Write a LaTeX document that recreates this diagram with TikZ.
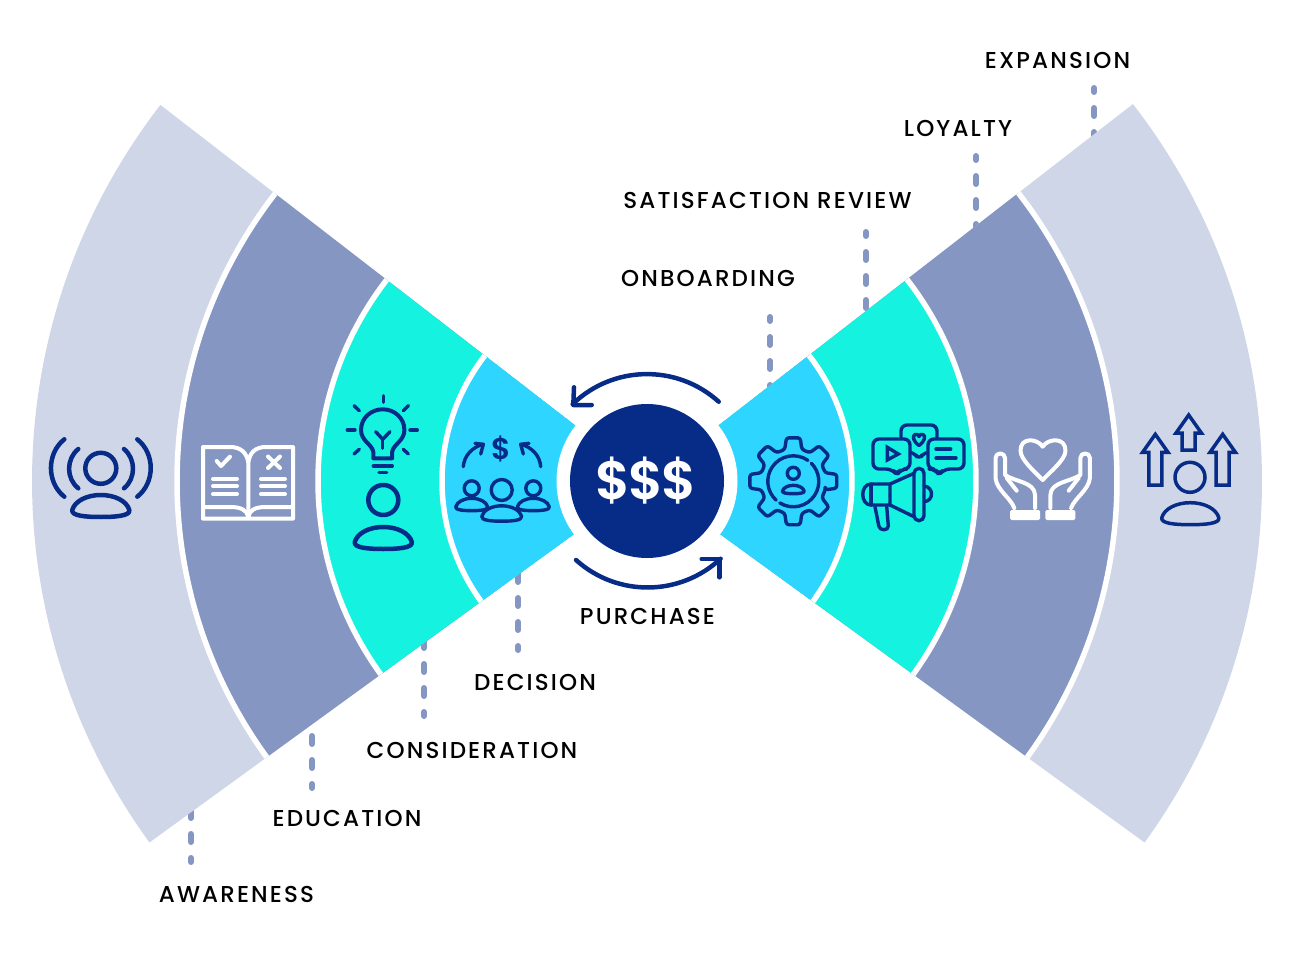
\documentclass[tikz,border=0pt]{standalone}
\usepackage{fontspec}
\newfontfamily\labelfont[LetterSpace=9.3]{Poppins Medium}
\newfontfamily\moneyfont[LetterSpace=-5]{Poppins SemiBold}
\definecolor{wedgepale}{HTML}{CFD6E8}
\definecolor{wedgemid}{HTML}{8596C3}
\definecolor{wedgeteal}{HTML}{15F2DF}
\definecolor{wedgesky}{HTML}{2DD5FF}
\definecolor{darkblue}{HTML}{062C87}
\tikzset{
    stagelabel/.style={font=\labelfont\fontsize{23}{23}\selectfont, text=black, inner sep=0pt},
    leader/.style={draw=wedgemid, line width=6pt, line cap=round, dash pattern=on 8pt off 16pt, dash phase=4pt},
    navyicon/.style={draw=darkblue, line width=4.5pt, line cap=round, line join=round},
    finenavy/.style={draw=darkblue, line width=3.4pt, line cap=round, line join=round},
    whiteicon/.style={draw=white, line width=4pt, line cap=round, line join=round},
    bodyshape/.pic={
        \path[pic actions] (-28.5,-4) .. controls (-26,5) and (-14,11) .. (0,11)
            .. controls (14,11) and (26,5) .. (28.5,-4)
            .. controls (30,-10) and (14,-11) .. (0,-11)
            .. controls (-14,-11) and (-30,-10) .. (-28.5,-4) -- cycle;
    },
}
\begin{document}
\begin{tikzpicture}[x=1pt,y=1pt]
    \useasboundingbox (0,0) rectangle (1296,-960);

    %leaders
    \foreach \name/\x/\ya/\yb in {expansion/1094/88/150, loyalty/976/156/245, satisfaction/866/232/325, onboarding/770/317/405,
        decision/518/650/560, consideration/424/716/625, education/312/788/720, awareness/191/862/795} {
        \coordinate (\name-free) at (\x,-\ya);
        \coordinate (\name-wedge) at (\x,-\yb);
        \draw[leader] (\name-free) -- (\name-wedge);
    }

    %wedges
    \begin{scope}[shift={(647,-481)}]
        \foreach \r/\c in {615/wedgepale,470/wedgemid,329/wedgeteal,205/wedgesky} {
            \fill[\c] (0,0) -- (142.3:\r) arc[start angle=142.3,end angle=216,radius=\r] -- cycle;
            \fill[\c] (0,0) -- (37.8:\r) arc[start angle=37.8,end angle=-36,radius=\r] -- cycle;
        }
        \foreach \r in {470,329,205} {
            \draw[white,line width=5.5pt] (142.3:\r) arc[start angle=142.3,end angle=216,radius=\r];
            \draw[white,line width=5.5pt] (37.8:\r) arc[start angle=37.8,end angle=-36,radius=\r];
        }
        \fill[white] (0,0) circle[radius=90.5];
        \fill[darkblue] (0,0) circle[radius=77];
    \end{scope}
    \node[font=\moneyfont\fontsize{54}{54}\selectfont, text=white, inner sep=0pt] (money) at (646,-481) {\$\$\$};

    %cycle arrows
    \draw[navyicon] (718.7,-401.7) arc[start angle=47.9,end angle=134,radius=107];
    \draw[navyicon] (574,-387.3) -- (573.3,-405) -- (591.7,-405);
    \draw[navyicon] (576,-560) arc[start angle=228,end angle=313,radius=107];
    \draw[navyicon] (701.7,-559) -- (719.3,-559) -- (719.3,-577.3);

    %awareness
    \draw[navyicon] (100.8,-468.3) circle[radius=15.5];
    \pic[navyicon] at (100.8,-506) {bodyshape};
    \draw[navyicon] (124,-449) .. controls (136,-459) and (136,-478.5) .. (124,-488.3);
    \draw[navyicon] (78.3,-449) .. controls (66,-459) and (66,-478.5) .. (78.3,-488.3);
    \draw[navyicon] (137.3,-439.3) .. controls (155.2,-453.5) and (155.2,-482.5) .. (137.3,-496.7);
    \draw[navyicon] (64.3,-439.3) .. controls (46.5,-453.5) and (46.5,-482.5) .. (64.3,-496.7);

    %education
    \draw[whiteicon] (248.3,-518.7) -- (248.3,-463) .. controls (247,-452) and (240,-447) .. (230,-447)
        -- (203,-447) -- (203,-518.7) -- (293,-518.7) -- (293,-447) -- (266,-447)
        .. controls (256,-447) and (249.5,-452) .. (248.3,-463);
    \draw[whiteicon] (203,-507) -- (230,-507) .. controls (241,-507) and (247,-510) .. (248.3,-517)
        .. controls (249.5,-510) and (255,-507) .. (266,-507) -- (293,-507);
    \foreach \y in {479,486,494} {
        \draw[whiteicon] (213,-\y) -- (237,-\y);
        \draw[whiteicon] (261,-\y) -- (285,-\y);
    }
    \draw[whiteicon] (216.7,-461) -- (221,-466) -- (230,-456.7);
    \draw[whiteicon] (268,-456.5) -- (280,-468);
    \draw[whiteicon] (280,-456.5) -- (268,-468);

    %consideration
    \draw[finenavy,line width=4pt] (373.3,-458.3) -- (373.3,-452) .. controls (372,-444) and (361,-441) .. (361,-430)
        .. controls (361,-418) and (371,-409.3) .. (382.7,-409.3)
        .. controls (394.4,-409.3) and (404.4,-418) .. (404.4,-430)
        .. controls (404.4,-441) and (393.4,-444) .. (392.1,-452) -- (392.1,-458.3) -- cycle;
    \draw[finenavy] (373.3,-466) -- (392.3,-466);
    \draw[finenavy] (379,-472.3) -- (386.7,-472.3);
    \draw[finenavy] (375.7,-431.7) -- (382.7,-439.3) -- (390,-431.7);
    \draw[finenavy] (382.7,-439.3) -- (382.7,-448.3);
    \foreach \xa/\ya/\xb/\yb in {383.3/395.7/383.3/402.3, 354/405.7/359.3/410.7, 408.3/405.7/403.3/410.7, 347.3/430/355/430,
        410/430/417.3/430, 354/454/359.3/449.3, 408.3/454/403.3/449.3} {
        \draw[finenavy] (\xa,-\ya) -- (\xb,-\yb);
    }
    \draw[navyicon] (383.3,-500) circle[radius=15];
    \pic[navyicon] at (383.3,-538) {bodyshape};

    %decision
    \node[font=\moneyfont\fontsize{30}{30}\selectfont, text=darkblue, inner sep=0pt] (decisionmoney) at (501.7,-449) {\$};
    \draw[finenavy] (463.3,-466.7) .. controls (464,-456) and (472,-447) .. (483.3,-444.3);
    \draw[finenavy] (475,-443.3) -- (483.3,-444.3) -- (480.7,-454);
    \draw[finenavy] (540.7,-466.7) .. controls (540,-456) and (532,-447) .. (520.7,-444.3);
    \draw[finenavy] (529,-443.3) -- (520.7,-444.3) -- (523.3,-454);
    \pic[finenavy,scale=.56] at (471.7,-504.5) {bodyshape};
    \pic[finenavy,scale=.56] at (533.3,-504.5) {bodyshape};
    \draw[finenavy] (471.7,-488.3) circle[radius=7.5];
    \draw[finenavy] (533.3,-488.3) circle[radius=7.5];
    \pic[finenavy,fill=wedgesky,scale=.7] at (501.7,-513.5) {bodyshape};
    \draw[finenavy,fill=wedgesky] (501.7,-490) circle[radius=10.5];

    %onboarding
    \begin{scope}[shift={(793.3,-481.3)}]
        \draw[finenavy,rounded corners=2.5pt] (-15:33)
            \foreach \a in {0,45,...,315} { -- ({\a-15}:33) -- ({\a-9}:44) -- ({\a+9}:44) -- ({\a+15}:33) } -- cycle;
        \draw[finenavy] (55:25.5) arc[start angle=55,end angle=228,radius=25.5];
        \draw[finenavy] (238:25.5) arc[start angle=238,end angle=405,radius=25.5];
    \end{scope}
    \draw[finenavy] (793.3,-473.3) circle[radius=6];
    \pic[finenavy,scale=.38] at (793.3,-489.5) {bodyshape};

    %satisfaction review
    \draw[finenavy,fill=wedgeteal,rounded corners=6pt] (901,-425) -- (937,-425) -- (937,-452) -- (924,-452) -- (919,-460) -- (914,-452) -- (901,-452) -- cycle;
    \draw[finenavy,fill=wedgeteal,rounded corners=6pt] (873,-439) -- (910,-439) -- (910,-469) -- (901,-469) -- (897,-475) -- (892,-469) -- (873,-469) -- cycle;
    \draw[finenavy,fill=wedgeteal,rounded corners=6pt] (928,-439) -- (964,-439) -- (964,-469) -- (944,-469) -- (939,-475) -- (935,-469) -- (928,-469) -- cycle;
    \draw[finenavy,line join=miter] (887.3,-447.3) -- (898.3,-454) -- (887.3,-460) -- cycle;
    \draw[finenavy] (936,-449) -- (950.7,-449);
    \draw[finenavy] (936,-458) -- (956,-458);
    \draw[finenavy] (919,-445.5) .. controls (913,-441) and (912,-436) .. (915,-434.5) .. controls (917,-433.5) and (918.5,-435) .. (919,-436.5)
        .. controls (919.5,-435) and (921,-433.5) .. (923,-434.5) .. controls (926,-436) and (925,-441) .. (919,-445.5) -- cycle;
    \draw[finenavy] (924,-486) .. controls (934,-487) and (934,-501) .. (924,-501.7);
    \draw[finenavy] (875,-506.7) -- (878.8,-526) .. controls (879.5,-531) and (888.5,-531) .. (888.3,-526) -- (886.7,-506.7);
    \draw[finenavy] (890,-484) -- (871,-484) .. controls (860,-484) and (860,-505) .. (871,-505) -- (890,-505) -- cycle;
    \draw[finenavy] (871,-484) -- (871,-505);
    \draw[finenavy] (890,-484) -- (914,-473.3);
    \draw[finenavy] (890,-505) -- (914,-516.7);
    \draw[finenavy,rounded corners=5pt] (914,-468.3) rectangle (924,-520.7);

    %loyalty
    \draw[whiteicon] (1042.7,-446.7) .. controls (1037,-438) and (1020,-437) .. (1020.5,-451)
        .. controls (1021,-460) and (1034,-471) .. (1042.7,-480)
        .. controls (1051,-471) and (1065,-460) .. (1065.5,-451)
        .. controls (1066,-437) and (1048,-438) .. (1042.7,-446.7) -- cycle;
    \foreach \s in {1,-1} {
        \begin{scope}[shift={(1042.7,0)},xscale=\s]
            \draw[whiteicon] (-28.4,-508) .. controls (-32,-498) and (-46,-490) .. (-47.2,-478) -- (-47.2,-458)
                .. controls (-47.2,-452) and (-37.7,-452) .. (-37.7,-458) -- (-37.7,-475)
                .. controls (-27,-482) and (-8,-482) .. (-7.7,-495) -- (-7.7,-508);
            \draw[whiteicon] (-36,-478) -- (-26,-490.7);
            \fill[white,rounded corners=1.5pt] (-32.7,-510) rectangle (-2.7,-520);
        \end{scope}
    }

    %expansion
    \foreach \x/\t/\b in {1155.3/434.3/485, 1188.7/415/450, 1222.7/434.3/485} {
        \draw[navyicon,line width=3.5pt,line join=miter] (\x-6.5,-\b) -- (\x-6.5,-\t-18) -- (\x-12.7,-\t-18) -- (\x,-\t) -- (\x+12.7,-\t-18) -- (\x+6.5,-\t-18) -- (\x+6.5,-\b) -- cycle;
    }
    \draw[navyicon,line width=3.5pt] (1190,-477.3) circle[radius=15];
    \pic[navyicon,line width=3.5pt] at (1190.3,-513.7) {bodyshape};

    %labels
    \node[stagelabel] (expansion) at (1057.5,-60) {EXPANSION};
    \node[stagelabel] (loyalty) at (958,-128) {LOYALTY};
    \node[stagelabel] (satisfaction) at (767.5,-200) {SATISFACTION REVIEW};
    \node[stagelabel] (onboarding) at (708,-278) {ONBOARDING};
    \node[stagelabel] (purchase) at (647.5,-616) {PURCHASE};
    \node[stagelabel] (decision) at (535,-682) {DECISION};
    \node[stagelabel] (consideration) at (472,-750) {CONSIDERATION};
    \node[stagelabel] (education) at (347,-818) {EDUCATION};
    \node[stagelabel] (awareness) at (236.5,-894) {AWARENESS};

\end{tikzpicture}
\end{document}
